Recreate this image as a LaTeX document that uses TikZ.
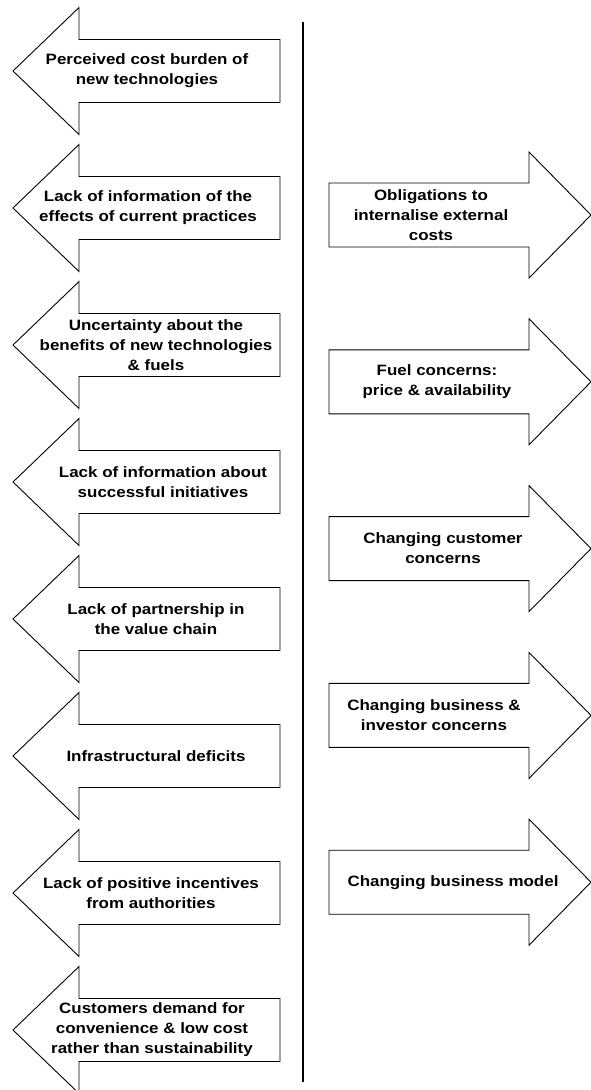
\documentclass[tikz,border=0pt]{standalone}
\usepackage{fontspec}
\setmainfont[FakeStretch=1.13]{Liberation Sans}
\begin{document}
\begin{tikzpicture}[x=1pt,y=-1pt,
  outline/.style={draw=black,line width=0.9pt,fill=white,line join=miter},
  label/.style={font=\bfseries\fontsize{15}{20}\selectfont,align=center,inner sep=0pt}]
\useasboundingbox (0,0) rectangle (590,1090);
% dividing line
\coordinate (top) at (303,22);
\coordinate (bot) at (303,1082);
\draw[line width=1.6pt] (top) -- (bot);
% barriers: arrows pointing left (text centre x / text)
\foreach \tx/\t [count=\i from 0] in {
  147/{Perceived cost burden of\\new technologies},
  148/{Lack of information of the\\effects of current practices},
  156/{Uncertainty about the\\benefits of new technologies\\\& fuels},
  163/{Lack of information about\\successful initiatives},
  156/{Lack of partnership in\\the value chain},
  156/{Infrastructural deficits},
  151/{Lack of positive incentives\\from authorities},
  152/{Customers demand for\\convenience \& low cost\\rather than sustainability}}{
  \pgfmathsetmacro\cy{71+137*\i}
  \draw[outline] (13,\cy) -- (79,\cy-63.5) -- (79,\cy-31.5) -- (280,\cy-31.5)
     -- (280,\cy+31.5) -- (79,\cy+31.5) -- (79,\cy+63.5) -- cycle;
  \node[label] (barrier\i) at (\tx,\cy) {\t};
}
% drivers: arrows pointing right (text centre x / text)
\foreach \tx/\t [count=\j from 0] in {
  431/{Obligations to\\internalise external\\costs},
  437/{Fuel concerns:\\price \& availability},
  443/{Changing customer\\concerns},
  434/{Changing business \&\\investor concerns},
  453/{Changing business model}}{
  \pgfmathsetmacro\cy{215+166.8*\j}
  \draw[outline] (591,\cy) -- (529,\cy-63) -- (529,\cy-32) -- (329,\cy-32)
     -- (329,\cy+32) -- (529,\cy+32) -- (529,\cy+63) -- cycle;
  \node[label] (driver\j) at (\tx,\cy) {\t};
}
\end{tikzpicture}
\end{document}
